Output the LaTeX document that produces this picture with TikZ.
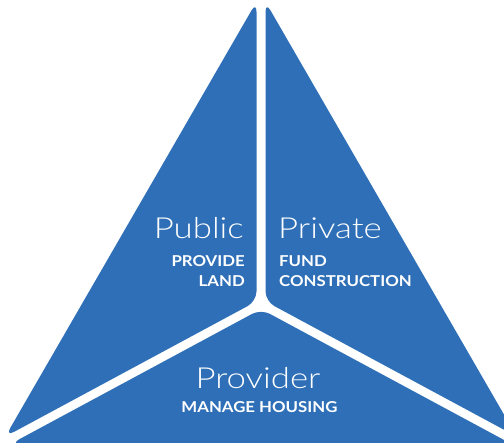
\documentclass[tikz,border=0pt]{standalone}
\usepackage{fontspec}
\setmainfont{Lato}[FakeStretch=1.12]
\newfontfamily\lightfont{Lato Light}[FakeStretch=1.2]
\definecolor{triblue}{RGB}{46,111,183}
\begin{document}
\begin{tikzpicture}[x=1pt,y=1pt,
  piece/.style={fill=triblue, rounded corners=10pt},
  title/.style={text=white, inner sep=0pt, font=\lightfont\fontsize{29}{29}\selectfont},
  task/.style={text=white, inner sep=0pt, font=\bfseries\fontsize{15}{17}\selectfont}]
\useasboundingbox (0,0) rectangle (504,-443);
\clip (0,0) rectangle (504,-443);
% three segments of the triangle, separated by white gaps
\fill[piece] (256.5,-1.79) -- (256.5,-301.31) -- (5.27,-436.6) -- cycle;
\fill[piece] (265.5,-1.79) -- (265.5,-301.31) -- (516.73,-436.6) -- cycle;
\fill[piece] (261,-309.11) -- (10.5,-444) -- (511.5,-444) -- cycle;
% labels
\node[title, anchor=base east] (public) at (244,-239) {Public};
\node[task, anchor=base east] (publicA) at (245,-267) {PROVIDE};
\node[task, anchor=base east] (publicB) at (245,-287) {LAND};
\node[title, anchor=base west] (private) at (278,-239) {Private};
\node[task, anchor=base west] (privateA) at (279,-267) {FUND};
\node[task, anchor=base west] (privateB) at (279,-287) {CONSTRUCTION};
\node[title, anchor=base] (provider) at (258,-389) {Provider};
\node[task, anchor=base] (providerA) at (259.5,-413) {MANAGE HOUSING};
\end{tikzpicture}
\end{document}
